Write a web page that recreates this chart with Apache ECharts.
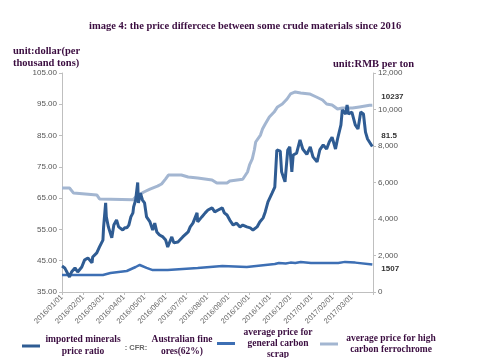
<!DOCTYPE html>
<html>
<head>
<meta charset="utf-8">
<script src="https://cdn.jsdelivr.net/npm/echarts@6/dist/echarts.min.js"></script>
<style>html,body{margin:0;padding:0;background:#fff}#c{width:498px;height:358px}</style>
</head>
<body>
<div id="c"></div>
<script>
// ---- data ----
const titleText = 'image 4: the price differcece between some crude materials since 2016';
const leftUnit = 'unit:dollar(per\nthousand tons)';
const rightUnit = 'unit:RMB per ton';
const seriesNames = [
  'imported minerals price ratio : CFR: Australian fine ores(62%)',
  'average price for general carbon scrap',
  'average price for high carbon ferrochrome'
];

const oreDates = ['2016-01-01','2016-01-05','2016-01-12','2016-01-15','2016-01-20','2016-01-24','2016-01-30','2016-02-03','2016-02-08','2016-02-14','2016-02-15','2016-02-21','2016-02-25','2016-03-01','2016-03-02','2016-03-05','2016-03-06','2016-03-09','2016-03-14','2016-03-17','2016-03-21','2016-03-24','2016-03-30','2016-04-02','2016-04-05','2016-04-08','2016-04-11','2016-04-14','2016-04-15','2016-04-18','2016-04-21','2016-04-22','2016-04-25','2016-04-28','2016-05-01','2016-05-04','2016-05-09','2016-05-13','2016-05-16','2016-05-19','2016-05-23','2016-05-28','2016-06-01','2016-06-04','2016-06-10','2016-06-13','2016-06-19','2016-06-26','2016-07-04','2016-07-07','2016-07-11','2016-07-17','2016-07-18','2016-07-24','2016-07-29','2016-08-02','2016-08-08','2016-08-12','2016-08-17','2016-08-23','2016-08-26','2016-08-30','2016-09-03','2016-09-08','2016-09-13','2016-09-18','2016-09-22','2016-09-28','2016-10-03','2016-10-07','2016-10-13','2016-10-17','2016-10-22','2016-10-25','2016-10-29','2016-11-04','2016-11-08','2016-11-11','2016-11-16','2016-11-18','2016-11-23','2016-11-27','2016-11-30','2016-12-03','2016-12-05','2016-12-10','2016-12-15','2016-12-19','2016-12-25','2016-12-30','2017-01-03','2017-01-09','2017-01-13','2017-01-18','2017-01-23','2017-01-27','2017-01-31','2017-02-05','2017-02-08','2017-02-13','2017-02-15','2017-02-20','2017-02-22','2017-02-24','2017-03-01','2017-03-06','2017-03-10','2017-03-14','2017-03-18','2017-03-21','2017-03-24','2017-03-31'];
const oreValues = [43.3,42.7,39.8,41.4,42.7,41.4,43.0,45.2,45.9,44.3,46.2,47.5,49.4,51.6,55.8,63.5,59,55.8,52.3,56.4,58,55.8,54.8,55.5,55.5,56.4,59,60.3,62.2,64.4,70,63.5,66.6,64.4,63.5,59,57.4,54.8,57,54.2,53.2,52.6,51.6,49.4,52.6,50.7,51,52.6,54.2,55.8,57,60.3,57.4,59,60.3,61.2,61.9,60.6,61.2,61.9,60.3,59.6,58,56.4,57,55.8,56.4,55.8,55.5,54.8,55.8,57.4,58.7,60.6,63.8,66.6,68.5,80.4,80,73.4,70.2,80.4,81.4,73.4,78.8,79.4,83.6,80.7,79,81.4,78.2,76.6,80.4,82,80.7,83,84.5,80.7,83.9,88.4,93.2,91.9,94.8,91.9,92.5,88.4,87.1,92.5,91.9,86.1,83.9,81.5];

const scrapDates = ['2016-01-01','2016-03-01','2016-03-12','2016-04-05','2016-04-18','2016-04-24','2016-05-04','2016-05-13','2016-06-04','2016-07-18','2016-08-23','2016-09-28','2016-11-08','2016-11-14','2016-11-24','2016-12-01','2016-12-08','2016-12-16','2016-12-31','2017-02-09','2017-02-19','2017-03-06','2017-03-31'];
const scrapValues = [930,930,1040,1150,1370,1480,1320,1200,1200,1310,1420,1370,1530,1590,1560,1610,1590,1640,1590,1590,1650,1610,1507];

const crDates = ['2016-01-01','2016-01-12','2016-01-18','2016-02-21','2016-02-25','2016-04-14','2016-04-18','2016-04-30','2016-05-09','2016-05-20','2016-05-26','2016-06-01','2016-06-05','2016-06-24','2016-07-04','2016-07-18','2016-08-08','2016-08-15','2016-08-30','2016-09-03','2016-09-22','2016-09-29','2016-10-02','2016-10-06','2016-10-09','2016-10-11','2016-10-18','2016-10-21','2016-10-25','2016-10-31','2016-11-07','2016-11-12','2016-11-19','2016-11-26','2016-12-01','2016-12-08','2016-12-16','2016-12-29','2017-01-08','2017-01-17','2017-01-23','2017-01-31','2017-02-08','2017-02-15','2017-03-02','2017-03-12','2017-03-27','2017-03-31'];
const crValues = [5700,5700,5420,5320,5100,5050,5200,5480,5640,5800,5920,6200,6410,6410,6300,6250,6140,5970,5970,6080,6180,6575,6960,7290,7780,8220,8600,8930,9200,9590,9860,10140,10300,10575,10850,10960,10900,10850,10685,10520,10300,10250,10030,10080,10080,10140,10230,10237];

const leftTicks = {min: 35, max: 105, step: 10};
const rightTicks = {min: 0, max: 12000, step: 2000};
const xRange = {min: '2016-01-01', max: '2017-04-01', lastLabel: '2017-03-01'};

// ---- build ----
const zip = (d, v) => d.map((x, i) => [x, v[i]]);
const serif = '"Liberation Serif", "Times New Roman", serif';
const sans = '"Liberation Sans", Arial, sans-serif';
const purple = '#3b0d40';
const cDark = '#2f5c93', cMid = '#3d6fb4', cLight = '#a3b6d1';
const pad2 = n => (n < 10 ? '0' : '') + n;
const lastLabelTime = new Date(xRange.lastLabel + 'T00:00:00').getTime();

const chart = echarts.init(document.getElementById('c'), null, {renderer: 'canvas'});
const endLbl = (dy) => ({
  show: true, distance: 9, offset: [0, dy],
  formatter: p => String(p.value[1]),
  fontSize: 8, fontWeight: 'bold', color: '#333', fontFamily: sans
});
const lt = (w, lh) => ({width: w, align: 'center', fontFamily: serif, fontWeight: 'bold', fontSize: 9.5, color: purple, lineHeight: lh});
const legendBase = {
  orient: 'horizontal', itemWidth: 18, itemHeight: 3, icon: 'rect', itemGap: 4,
  selectedMode: false, padding: 0,
  textStyle: {fontFamily: serif, fontWeight: 'bold', fontSize: 9.5, color: purple, lineHeight: 11}
};

chart.setOption({
  animation: false,
  backgroundColor: '#fff',
  title: [
    {text: titleText, left: 89, top: 21, padding: 0,
     textStyle: {fontFamily: serif, fontWeight: 'bold', fontSize: 10.5, color: purple}},
    {text: leftUnit, left: 13, top: 45, padding: 0,
     textStyle: {fontFamily: serif, fontWeight: 'bold', fontSize: 10.5, color: purple, lineHeight: 12}},
    {text: rightUnit, left: 333, top: 59, padding: 0,
     textStyle: {fontFamily: serif, fontWeight: 'bold', fontSize: 10.5, color: purple}}
  ],
  grid: {left: 62, right: 125, top: 73, bottom: 66, containLabel: false},
  legend: [
    Object.assign({}, legendBase, {
      data: [seriesNames[0]], left: 22, top: 334,
      formatter: () => '{a|imported minerals}{c|}{a2|Australian fine}\n{a|price ratio}{b|: CFR:}{a2|ores(62%)}',
      textStyle: Object.assign({}, legendBase.textStyle, {rich: {
        a: lt(76, 12), a2: lt(62, 12),
        b: {width: 30, align: 'center', fontFamily: sans, fontSize: 7.5, color: '#666', padding: [0,0,9,0]},
        c: {width: 30}
      }})
    }),
    Object.assign({}, legendBase, {
      data: [seriesNames[1]], left: 217, top: 327,
      formatter: () => '{a|average price for}\n{a|general carbon}\n{a|scrap}',
      textStyle: Object.assign({}, legendBase.textStyle, {rich: {a: lt(76, 11)}})
    }),
    Object.assign({}, legendBase, {
      data: [seriesNames[2]], left: 320, top: 333,
      formatter: () => '{a|average price for high}\n{a|carbon ferrochrome}',
      textStyle: Object.assign({}, legendBase.textStyle, {rich: {a: lt(96, 11)}})
    })
  ],
  xAxis: {
    type: 'time', min: xRange.min, max: xRange.max, splitNumber: 15,
    axisLine: {lineStyle: {color: '#bfbfbf'}},
    axisTick: {show: true, length: 3, lineStyle: {color: '#bfbfbf'}},
    splitLine: {show: false},
    axisLabel: {rotate: 45, fontSize: 7.5, color: '#666', fontFamily: sans, margin: 4, hideOverlap: false,
      formatter: v => {
        if (v > lastLabelTime) return '';
        const d = new Date(v);
        return d.getFullYear() + '/' + pad2(d.getMonth() + 1) + '/' + pad2(d.getDate());
      }}
  },
  yAxis: [
    {type: 'value', min: leftTicks.min, max: leftTicks.max, interval: leftTicks.step, position: 'left',
     axisLine: {show: true, lineStyle: {color: '#bfbfbf'}},
     axisTick: {show: true, length: 3, lineStyle: {color: '#bfbfbf'}},
     splitLine: {show: false},
     axisLabel: {fontSize: 8, color: '#555', fontFamily: sans, margin: 5, formatter: v => v.toFixed(2)}},
    {type: 'value', min: rightTicks.min, max: rightTicks.max, interval: rightTicks.step, position: 'right',
     axisLine: {show: true, lineStyle: {color: '#bfbfbf'}},
     axisTick: {show: true, length: 3, lineStyle: {color: '#bfbfbf'}},
     splitLine: {show: false},
     axisLabel: {fontSize: 8, color: '#555', fontFamily: sans, margin: 5}}
  ],
  series: [
    {name: seriesNames[2], type: 'line', yAxisIndex: 1, data: zip(crDates, crValues), showSymbol: false,
     lineStyle: {color: cLight, width: 3}, itemStyle: {color: cLight}, endLabel: endLbl(-8), z: 2},
    {name: seriesNames[1], type: 'line', yAxisIndex: 1, data: zip(scrapDates, scrapValues), showSymbol: false,
     lineStyle: {color: cMid, width: 2.5}, itemStyle: {color: cMid}, endLabel: endLbl(4), z: 3},
    {name: seriesNames[0], type: 'line', yAxisIndex: 0, data: zip(oreDates, oreValues), showSymbol: false,
     lineStyle: {color: cDark, width: 3}, itemStyle: {color: cDark}, endLabel: endLbl(-11), z: 4}
  ]
});
</script>
</body>
</html>
